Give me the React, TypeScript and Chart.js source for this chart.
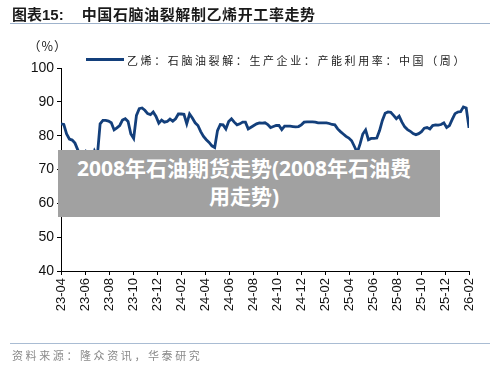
import React, { useEffect, useRef } from "react";
import { Chart, registerables } from "chart.js";

Chart.register(...registerables);

const TITLE_PREFIX = "图表15:";
const TITLE_TEXT = "中国石脑油裂解制乙烯开工率走势";
const UNIT_LABEL = "（%）";
const SERIES_NAME = "乙烯：石脑油裂解：生产企业：产能利用率：中国（周）";
const SOURCE_TEXT = "资料来源：隆众资讯，华泰研究";
const WATERMARK_LINES = ["2008年石油期货走势(2008年石油费", "用走势)"];

// month-tick labels, one every two months starting 2023-04
const X_TICK_LABELS = [
  "23-04", "23-06", "23-08", "23-10", "23-12",
  "24-02", "24-04", "24-06", "24-08", "24-10", "24-12",
  "25-02", "25-04", "25-06", "25-08", "25-10", "25-12", "26-02",
];
const Y_MIN = 40;
const Y_MAX = 100;
const Y_STEP = 10;

// weekly capacity utilisation (%)
const WEEKLY_VALUES = [
  83.5, 83.3, 80.5, 79, 78.7, 77.8, 75.8, 73.8, 72.3, 75.3,
  74.5, 72.5, 75.5, 74, 83.5, 84.5, 84.5, 84.3, 83.8, 81.7,
  82.3, 83, 84.6, 85, 84.2, 80.5, 79.2, 86, 88, 88.2,
  87.5, 86.5, 86.2, 87, 85.7, 83.7, 84.6, 84, 84.2, 84.9,
  84.3, 85, 86.4, 86.4, 86.3, 83.5, 86.4, 85.2, 83.8, 83,
  81.2, 79.8, 78.8, 78, 77, 76.5, 81.5, 83.3, 83.2, 82,
  84.2, 85, 84, 83.2, 83.5, 84, 84, 82, 82.5, 83,
  83.5, 83.8, 83.7, 83.8, 83.3, 82.4, 82.7, 83, 83, 81.8,
  82.8, 82.8, 82.8, 82.7, 82.6, 82.7, 83.2, 84, 84.1, 84.1,
  84.1, 84, 83.8, 83.8, 83.8, 83.8, 83.6, 83.3, 83.2, 82,
  81.2, 80.5, 79.8, 79.3, 78.5, 76.8, 75, 77.5, 80.5, 81.7,
  78.8, 79.2, 79.2, 79.3, 81.5, 84.5, 86.6, 87, 86.9, 86,
  85, 85.8, 84, 82.6, 81.8, 81.3, 80.6, 80.3, 80.6, 81.2,
  82.2, 82.4, 82, 83, 83.2, 83.1, 83.3, 83.8, 82.4, 83,
  84.8, 86.5, 87, 87.1, 88.5, 88.2, 82.3,
];

const MONTH_SPAN = (X_TICK_LABELS.length - 1) * 2;
const LINE_COLOR = "#133f7b";

export default function App() {
  const canvasRef = useRef<HTMLCanvasElement | null>(null);

  useEffect(() => {
    if (!canvasRef.current) return;
    const n = WEEKLY_VALUES.length;
    const points = WEEKLY_VALUES.map((v, i) => ({ x: (i * MONTH_SPAN) / (n - 1), y: v }));
    const chart = new Chart(canvasRef.current, {
      type: "line",
      data: {
        datasets: [
          {
            label: SERIES_NAME,
            data: points,
            borderColor: LINE_COLOR,
            borderWidth: 2.8,
            pointRadius: 0,
            tension: 0,
            fill: false,
          },
        ],
      },
      options: {
        animation: false,
        responsive: false,
        devicePixelRatio: 1,
        layout: { padding: { top: 68, right: 31, left: 0, bottom: 0 } },
        plugins: { legend: { display: false }, tooltip: { enabled: false }, title: { display: false } },
        scales: {
          x: {
            type: "linear",
            min: 0,
            max: MONTH_SPAN,
            afterFit: (s: any) => {
              s.height = 96;
            },
            grid: { drawOnChartArea: false, drawTicks: true, tickLength: 4, color: "#000" },
            border: { display: true, color: "#000", width: 1 },
            ticks: {
              stepSize: 2,
              autoSkip: false,
              minRotation: 90,
              maxRotation: 90,
              padding: 3,
              color: "#111",
              font: { family: "'Liberation Sans', Arial, sans-serif", size: 13 },
              callback: (v: any) => {
                const idx = Math.round(Number(v) / 2);
                return X_TICK_LABELS[idx] ?? "";
              },
            },
          },
          y: {
            min: Y_MIN,
            max: Y_MAX,
            afterFit: (s: any) => {
              s.width = 61;
            },
            grid: { drawOnChartArea: false, drawTicks: true, tickLength: 4, color: "#000" },
            border: { display: true, color: "#000", width: 1 },
            ticks: {
              stepSize: Y_STEP,
              padding: 3,
              color: "#111",
              font: { family: "'Liberation Sans', Arial, sans-serif", size: 14 },
            },
          },
        },
      },
    });
    return () => chart.destroy();
  }, []);

  return (
    <div
      style={{
        position: "absolute",
        left: 0,
        top: 0,
        width: 500,
        height: 367,
        background: "#fff",
        overflow: "hidden",
        fontFamily: "'Noto Sans CJK SC', sans-serif",
      }}
    >
      <canvas ref={canvasRef} width={500} height={367} style={{ position: "absolute", left: 0, top: 0 }} />
      <div
        style={{
          position: "absolute",
          left: 12,
          top: 4,
          fontSize: 15,
          fontWeight: 700,
          color: "#1a1a1a",
          whiteSpace: "nowrap",
          lineHeight: "20px",
        }}
      >
        <span style={{ fontFamily: "'Liberation Sans', 'Noto Sans CJK SC', sans-serif" }}>{TITLE_PREFIX}</span>
        <span style={{ marginLeft: 18, letterSpacing: 0.6 }}>{TITLE_TEXT}</span>
      </div>
      <div style={{ position: "absolute", left: 10, top: 23, width: 480, height: 1, background: "#9fb3cc" }} />
      <div
        style={{ position: "absolute", left: 28, top: 38, fontSize: 12.5, color: "#222", lineHeight: "16px", letterSpacing: 1 }}
      >
        {UNIT_LABEL}
      </div>
      <div style={{ position: "absolute", left: 86, top: 58, width: 38, height: 3, background: LINE_COLOR }} />
      <div
        style={{
          position: "absolute",
          left: 127,
          top: 52,
          fontSize: 11,
          color: "#222",
          letterSpacing: 2.6,
          whiteSpace: "nowrap",
          lineHeight: "16px",
        }}
      >
        {SERIES_NAME}
      </div>
      <div
        style={{
          position: "absolute",
          left: 58,
          top: 150,
          width: 382,
          height: 67,
          background: "#a1a1a1",
          color: "#fff",
          fontWeight: 700,
          fontSize: 21,
          textAlign: "center",
          lineHeight: "28px",
          paddingTop: 4,
          paddingRight: 10,
          boxSizing: "border-box",
          fontFamily: "'Open Sans', 'Noto Sans CJK SC', sans-serif",
          whiteSpace: "nowrap",
        }}
      >
        {WATERMARK_LINES.map((l, i) => (
          <div key={i}>{l}</div>
        ))}
      </div>
      <div style={{ position: "absolute", left: 10, top: 343, width: 480, height: 1, background: "#a9bcd3" }} />
      <div
        style={{
          position: "absolute",
          left: 12,
          top: 347,
          fontSize: 11,
          color: "#8a8a8a",
          letterSpacing: 2.6,
          whiteSpace: "nowrap",
          lineHeight: "16px",
        }}
      >
        {SOURCE_TEXT}
      </div>
    </div>
  );
}
